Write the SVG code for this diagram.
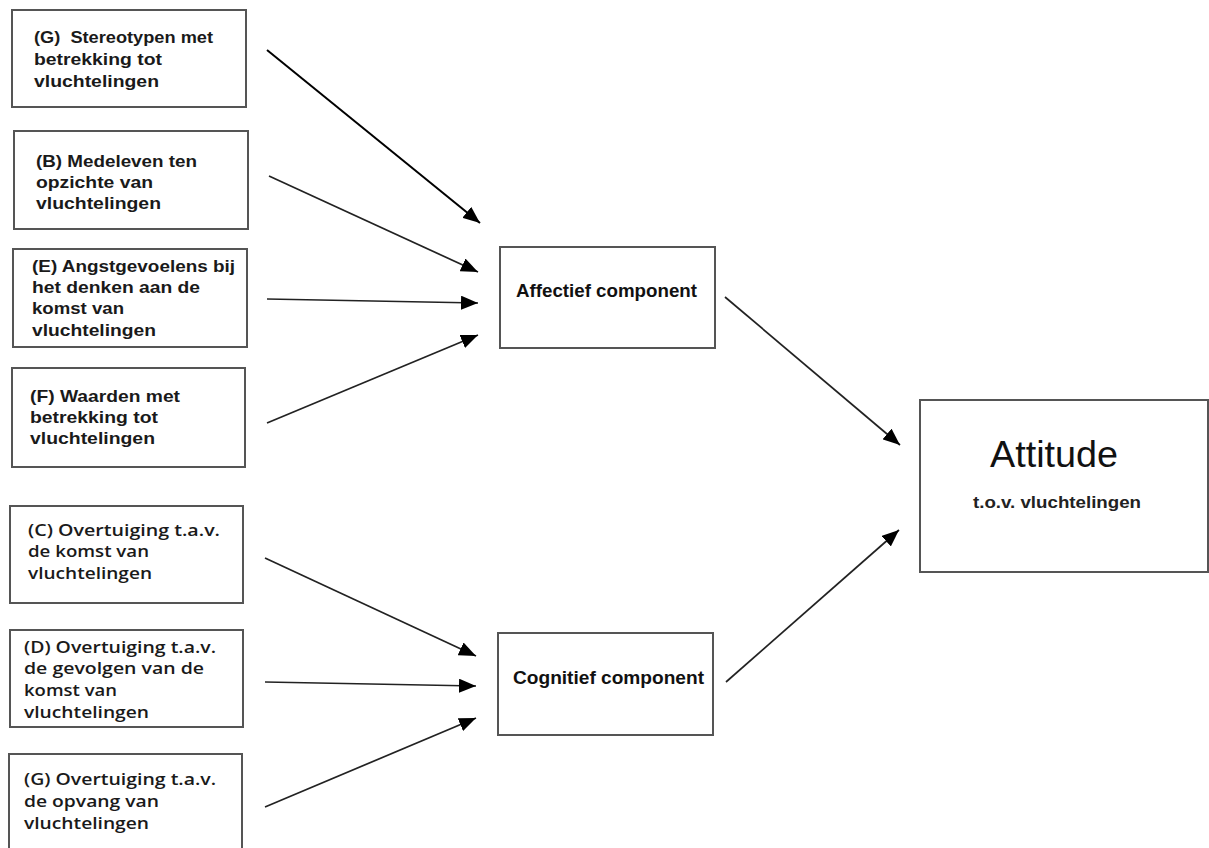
<svg xmlns="http://www.w3.org/2000/svg" width="1209" height="848" viewBox="0 0 1209 848">
  <defs>
    <style>
      .box { fill: #ffffff; stroke: #555555; stroke-width: 2; }
      .t1 { font-family: "Liberation Sans", Arial, sans-serif; font-weight: bold; font-size: 17px; fill: #1a1a1a; }
      .t2 { font-family: "Open Sans", "Noto Sans", sans-serif; font-weight: 600; font-size: 16px; fill: #1a1a1a; }
      .t3 { font-family: "Liberation Sans", Arial, sans-serif; font-weight: bold; font-size: 18px; fill: #111111; }
      .big { font-family: "Liberation Sans", Arial, sans-serif; font-size: 36px; fill: #111111; }
      .sub { font-family: "Liberation Sans", Arial, sans-serif; font-weight: bold; font-size: 16px; fill: #222222; }
      .con { stroke: #222222; stroke-width: 1.7; fill: none; marker-end: url(#ah); }
      .con-dark { stroke: #000000; stroke-width: 2; fill: none; marker-end: url(#ah); }
    </style>
    <marker id="ah" markerUnits="userSpaceOnUse" markerWidth="18" markerHeight="14" refX="17" refY="7" orient="auto">
      <path d="M0,0 L17,7 L0,14 z" fill="#000000"/>
    </marker>
  </defs>
  <rect x="0" y="0" width="1209" height="848" fill="#ffffff"/>

  <g id="node-G-stereotypen">
    <rect class="box" x="12" y="10" width="234" height="97"/>
    <text class="t1" x="34" y="43" textLength="179" lengthAdjust="spacingAndGlyphs" xml:space="preserve">(G)  Stereotypen met</text>
    <text class="t1" x="34" y="65" textLength="128" lengthAdjust="spacingAndGlyphs">betrekking tot</text>
    <text class="t1" x="34" y="87" textLength="125" lengthAdjust="spacingAndGlyphs">vluchtelingen</text>
  </g>

  <g id="node-B-medeleven">
    <rect class="box" x="14" y="131" width="234" height="98"/>
    <text class="t1" x="36" y="167" textLength="161" lengthAdjust="spacingAndGlyphs">(B) Medeleven ten</text>
    <text class="t1" x="36" y="188" textLength="117" lengthAdjust="spacingAndGlyphs">opzichte van</text>
    <text class="t1" x="36" y="209" textLength="125" lengthAdjust="spacingAndGlyphs">vluchtelingen</text>
  </g>

  <g id="node-E-angst">
    <rect class="box" x="13" y="249" width="234" height="98"/>
    <text class="t1" x="32" y="272" textLength="203" lengthAdjust="spacingAndGlyphs">(E) Angstgevoelens bij</text>
    <text class="t1" x="32" y="293" textLength="168" lengthAdjust="spacingAndGlyphs">het denken aan de</text>
    <text class="t1" x="32" y="314" textLength="92" lengthAdjust="spacingAndGlyphs">komst van</text>
    <text class="t1" x="32" y="336" textLength="124" lengthAdjust="spacingAndGlyphs">vluchtelingen</text>
  </g>

  <g id="node-F-waarden">
    <rect class="box" x="12" y="368" width="233" height="99"/>
    <text class="t1" x="30" y="402" textLength="150" lengthAdjust="spacingAndGlyphs">(F) Waarden met</text>
    <text class="t1" x="30" y="423" textLength="128" lengthAdjust="spacingAndGlyphs">betrekking tot</text>
    <text class="t1" x="30" y="444" textLength="125" lengthAdjust="spacingAndGlyphs">vluchtelingen</text>
  </g>

  <g id="node-C-overtuiging-komst">
    <rect class="box" x="10" y="506" width="233" height="97"/>
    <text class="t2" x="28" y="536" textLength="192" lengthAdjust="spacingAndGlyphs">(C) Overtuiging t.a.v.</text>
    <text class="t2" x="28" y="557" textLength="121" lengthAdjust="spacingAndGlyphs">de komst van</text>
    <text class="t2" x="28" y="579" textLength="124" lengthAdjust="spacingAndGlyphs">vluchtelingen</text>
  </g>

  <g id="node-D-overtuiging-gevolgen">
    <rect class="box" x="10" y="630" width="233" height="97"/>
    <text class="t2" x="24" y="653" textLength="192" lengthAdjust="spacingAndGlyphs">(D) Overtuiging t.a.v.</text>
    <text class="t2" x="24" y="674" textLength="180" lengthAdjust="spacingAndGlyphs">de gevolgen van de</text>
    <text class="t2" x="24" y="696" textLength="93" lengthAdjust="spacingAndGlyphs">komst van</text>
    <text class="t2" x="24" y="718" textLength="125" lengthAdjust="spacingAndGlyphs">vluchtelingen</text>
  </g>

  <g id="node-G-overtuiging-opvang">
    <rect class="box" x="9" y="754" width="233" height="110"/>
    <text class="t2" x="24" y="785" textLength="192" lengthAdjust="spacingAndGlyphs">(G) Overtuiging t.a.v.</text>
    <text class="t2" x="24" y="807" textLength="135" lengthAdjust="spacingAndGlyphs">de opvang van</text>
    <text class="t2" x="24" y="829" textLength="125" lengthAdjust="spacingAndGlyphs">vluchtelingen</text>
  </g>

  <g id="node-affectief">
    <rect class="box" x="500" y="247" width="215" height="101"/>
    <text class="t3" x="516" y="297" textLength="181" lengthAdjust="spacingAndGlyphs">Affectief component</text>
  </g>

  <g id="node-cognitief">
    <rect class="box" x="498" y="633" width="215" height="102"/>
    <text class="t3" x="513" y="684" textLength="191" lengthAdjust="spacingAndGlyphs">Cognitief component</text>
  </g>

  <g id="node-attitude">
    <rect class="box" x="920" y="400" width="288" height="172"/>
    <text class="big" x="990" y="467" textLength="128" lengthAdjust="spacingAndGlyphs">Attitude</text>
    <text class="sub" x="973" y="508" textLength="168" lengthAdjust="spacingAndGlyphs">t.o.v. vluchtelingen</text>
  </g>

  <g id="connectors">
    <line class="con-dark" x1="267" y1="50" x2="480" y2="223"/>
    <line class="con" x1="269" y1="176" x2="478" y2="272"/>
    <line class="con" x1="267" y1="299" x2="478" y2="303"/>
    <line class="con" x1="267" y1="423" x2="478" y2="335"/>
    <line class="con" x1="265" y1="558" x2="476" y2="656"/>
    <line class="con" x1="265" y1="682" x2="476" y2="686"/>
    <line class="con" x1="265" y1="807" x2="476" y2="718"/>
    <line class="con" x1="725" y1="297" x2="900" y2="445"/>
    <line class="con" x1="726" y1="682" x2="899" y2="530"/>
  </g>
</svg>
